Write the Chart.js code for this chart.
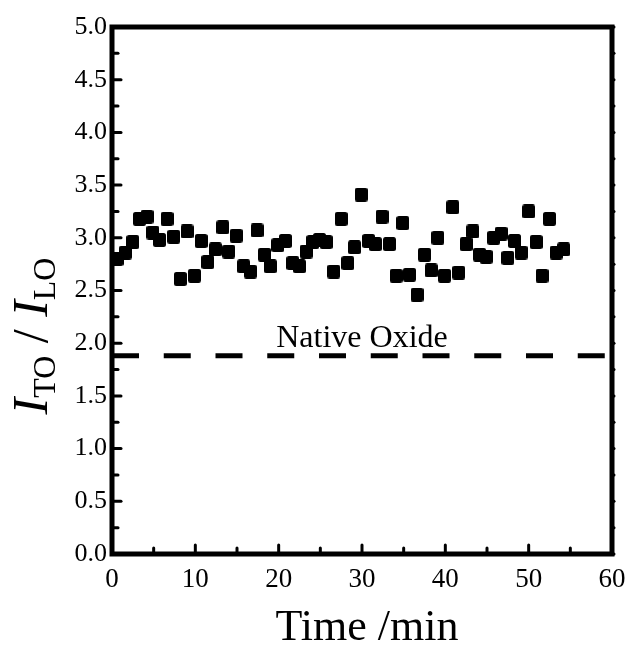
<!DOCTYPE html>
<html>
<head>
<meta charset="utf-8">
<script src="https://cdn.jsdelivr.net/npm/chart.js@4.4.1/dist/chart.umd.min.js"></script>
<style>
  html, body { margin: 0; padding: 0; background: #fff; }
  #wrap { width: 630px; height: 646px; }
</style>
</head>
<body>
<div id="wrap"><canvas id="c"></canvas></div>
<script>
// time (min) and intensity ratio
const timeMin = [
  0.6, 1.6, 2.5, 3.3, 4.2, 4.9, 5.7, 6.6, 7.4, 8.2, 9.0, 9.9, 10.7, 11.5, 12.4, 13.3,
  14.0, 14.9, 15.8, 16.6, 17.4, 18.3, 19.0, 19.9, 20.8, 21.7, 22.5, 23.3, 24.1, 24.9,
  25.7, 26.6, 27.5, 28.3, 29.1, 29.9, 30.8, 31.6, 32.4, 33.3, 34.1, 34.9, 35.7, 36.6,
  37.5, 38.3, 39.1, 39.9, 40.9, 41.6, 42.5, 43.3, 44.1, 44.9, 45.8, 46.7, 47.5, 48.3,
  49.1, 50.0, 50.9, 51.6, 52.5, 53.3, 54.2
];
const ratio = [
  2.80, 2.86, 2.96, 3.18, 3.20, 3.05, 2.98, 3.18, 3.01, 2.61, 3.06, 2.64, 2.97, 2.77, 2.89, 3.10,
  2.87, 3.02, 2.73, 2.68, 3.07, 2.84, 2.73, 2.93, 2.97, 2.76, 2.73, 2.87, 2.96, 2.98,
  2.96, 2.68, 3.18, 2.76, 2.91, 3.41, 2.97, 2.94, 3.20, 2.94, 2.64, 3.14, 2.65, 2.46,
  2.84, 2.69, 3.00, 2.64, 3.29, 2.67, 2.94, 3.06, 2.84, 2.82, 3.00, 3.04, 2.81, 2.97,
  2.86, 3.25, 2.96, 2.64, 3.18, 2.86, 2.89
];
const nativeOxide = 1.88;
const nativeLabel = 'Native Oxide';
const xTitle = 'Time /min';

const serif = '"Liberation Serif", "DejaVu Serif", serif';

// slightly rounded square marker
const marker = document.createElement('canvas');
marker.width = 13; marker.height = 14;
(function() {
    const m = marker.getContext('2d');
    m.fillStyle = '#000';
    m.beginPath();
    m.roundRect(0, 0, 13, 14, 2.5);
    m.fill();
})();

const framePlugin = {
    id: 'frame',
    afterDraw(chart) {
        const ctx = chart.ctx;
        const a = chart.chartArea;
        const xs = chart.scales.x, ys = chart.scales.y;
        ctx.save();
        ctx.strokeStyle = '#000';
        ctx.lineWidth = 5;
        ctx.strokeRect(a.left, a.top, a.right - a.left, a.bottom - a.top);

        // inward ticks
        ctx.lineWidth = 3;
        ctx.lineCap = 'round';
        for (let v = 0; v <= 5.0001; v += 0.25) {
            const y = ys.getPixelForValue(v);
            const major = Math.abs(v * 2 - Math.round(v * 2)) < 1e-6;
            ctx.beginPath();
            ctx.moveTo(a.left, y);
            ctx.lineTo(a.left + (major ? 9 : 6), y);
            ctx.stroke();
            // small marks on the right axis
            ctx.beginPath();
            ctx.moveTo(a.right, y);
            ctx.lineTo(a.right + 2, y);
            ctx.stroke();
        }
        for (let v = 0; v <= 60; v += 5) {
            const x = xs.getPixelForValue(v);
            const major = v % 10 === 0;
            ctx.beginPath();
            ctx.moveTo(x, a.bottom);
            ctx.lineTo(x, a.bottom - (major ? 9 : 6));
            ctx.stroke();
        }

        // label over the dashed line
        ctx.fillStyle = '#000';
        ctx.font = '32px ' + serif;
        ctx.textAlign = 'center';
        ctx.textBaseline = 'alphabetic';
        ctx.fillText(nativeLabel, xs.getPixelForValue(30), ys.getPixelForValue(nativeOxide) - 9);

        // x title
        ctx.font = '44px ' + serif;
        ctx.fillText(xTitle, 367, 640);

        // y title  I_TO / I_LO
        const big = 50, small = 32;
        const parts = [
            { t: 'I', f: 'italic ' + big + 'px ' + serif, dy: 0 },
            { t: 'TO', f: small + 'px ' + serif, dy: 8 },
            { t: ' / ', f: big + 'px ' + serif, dy: 0 },
            { t: 'I', f: 'italic ' + big + 'px ' + serif, dy: 0 },
            { t: 'LO', f: small + 'px ' + serif, dy: 8 }
        ];
        let total = 0;
        parts.forEach(p => { ctx.font = p.f; p.w = ctx.measureText(p.t).width; total += p.w; });
        ctx.translate(47, 336);
        ctx.rotate(-Math.PI / 2);
        ctx.textAlign = 'left';
        let px = -total / 2;
        parts.forEach(p => {
            ctx.font = p.f;
            ctx.fillText(p.t, px, p.dy);
            px += p.w;
        });
        ctx.restore();
    }
};

new Chart(document.getElementById('c'), {
    type: 'scatter',
    data: {
        datasets: [
            {
                data: timeMin.map((t, i) => ({ x: t, y: ratio[i] })),
                pointStyle: marker,
                pointRadius: 7,
                backgroundColor: '#000'
            },
            {
                type: 'line',
                data: [{ x: 0, y: nativeOxide }, { x: 60, y: nativeOxide }],
                borderColor: '#000',
                borderWidth: 5,
                borderDash: [27, 24.75],
                pointRadius: 0,
                fill: false
            }
        ]
    },
    options: {
        responsive: true,
        maintainAspectRatio: false,
        animation: false,
        events: [],
        layout: { padding: { top: 27, right: 18, left: 0, bottom: 0 } },
        plugins: {
            legend: { display: false },
            tooltip: { enabled: false }
        },
        scales: {
            x: {
                type: 'linear',
                min: 0,
                max: 60,
                grid: { display: false, drawTicks: false },
                border: { display: false },
                afterFit: s => { s.height = 92; s.paddingLeft = 0; s.paddingRight = 0; },
                ticks: {
                    stepSize: 10,
                    padding: 10,
                    color: '#000',
                    font: { family: serif, size: 27 }
                }
            },
            y: {
                min: 0,
                max: 5,
                grid: { display: false, drawTicks: false },
                border: { display: false },
                afterFit: s => { s.width = 112; s.paddingTop = 0; s.paddingBottom = 0; },
                ticks: {
                    stepSize: 0.5,
                    padding: 5,
                    color: '#000',
                    font: { family: serif, size: 26 },
                    callback: v => v.toFixed(1)
                }
            }
        }
    },
    plugins: [framePlugin]
});
</script>
</body>
</html>
